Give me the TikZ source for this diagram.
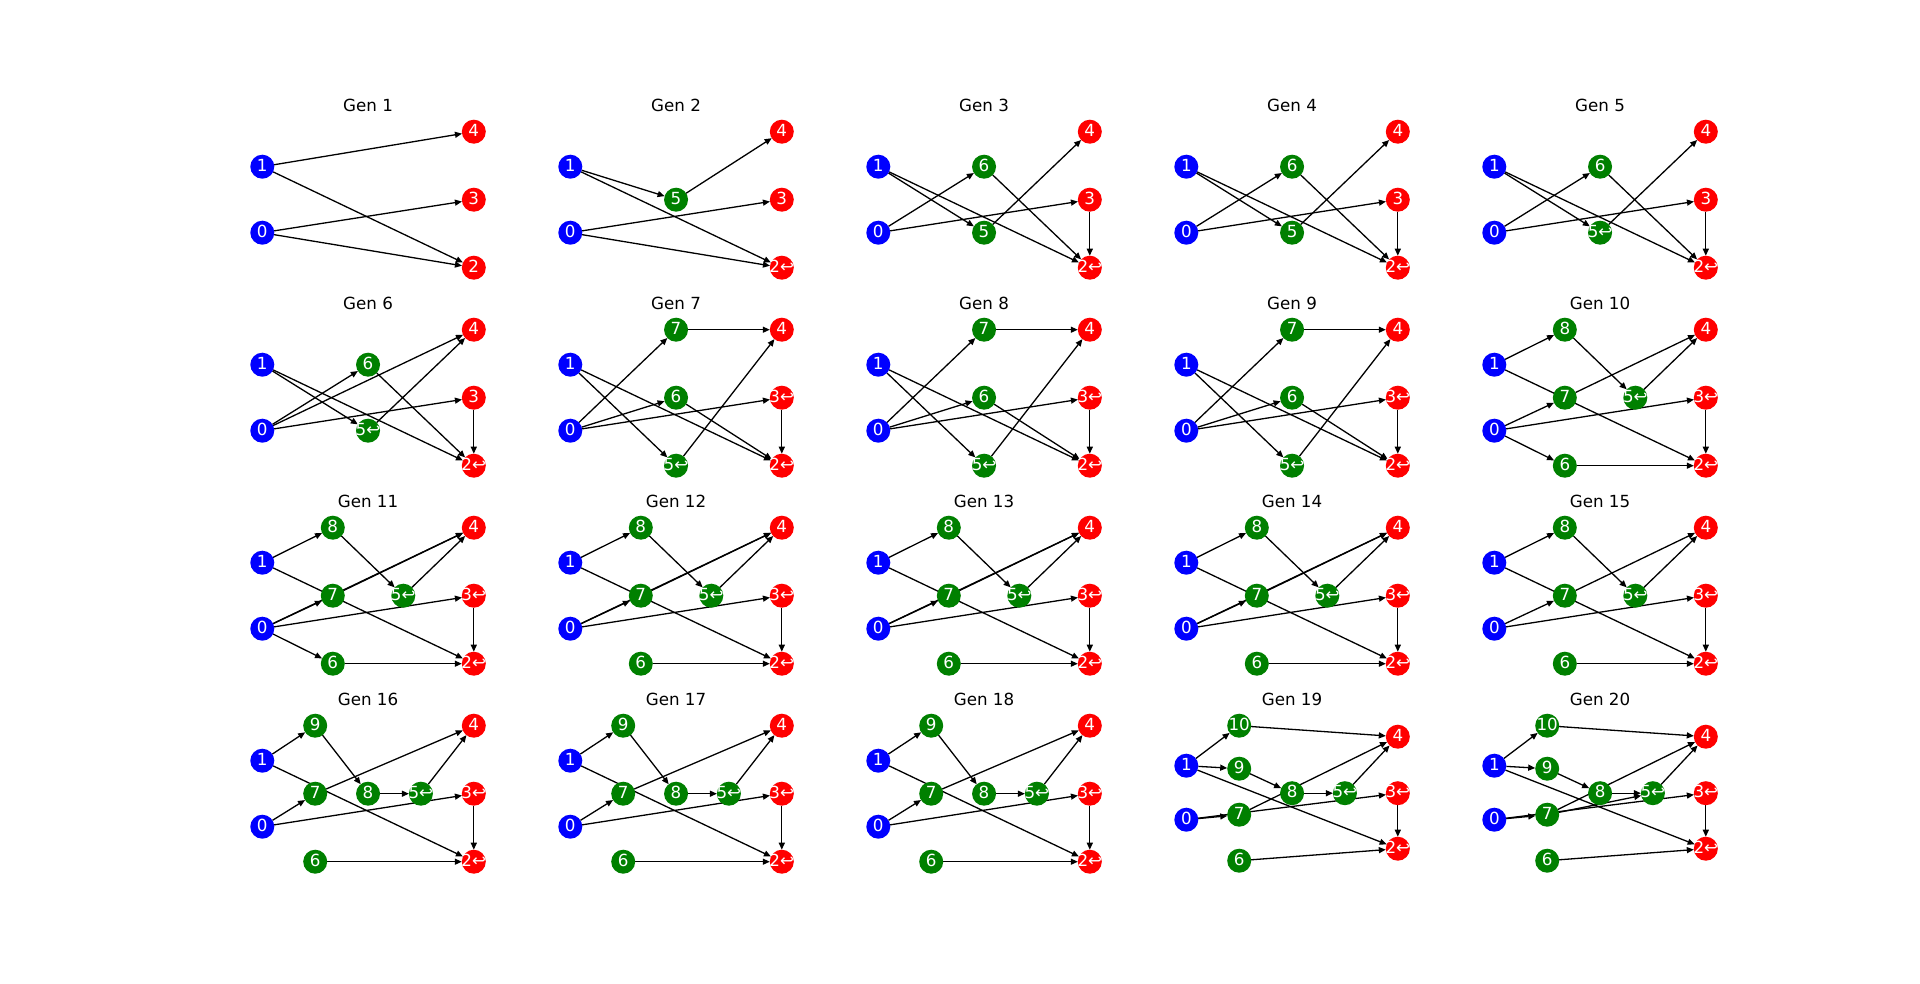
\documentclass[tikz,border=0pt]{standalone}
\usepackage{fontspec}
\setmainfont{DejaVu Sans}
\usetikzlibrary{arrows.meta,backgrounds}
\definecolor{mgreen}{RGB}{0,128,0}
\tikzset{
  gn/.style={circle, minimum size=24pt, inner sep=0pt, outer sep=0pt, draw=none},
  inn/.style={gn, fill=blue},
  hid/.style={gn, fill=mgreen},
  outn/.style={gn, fill=red},
  lab/.style={text=white, font=\fontsize{16.7}{18}\selectfont, inner sep=0pt, text height=12.7pt, text depth=3.5pt},
  ed/.style={draw=black, line width=1.3pt, -{Triangle[length=7pt,width=6pt]}},
  ttl/.style={font=\fontsize{16.7}{18}\selectfont, anchor=base, inner sep=0pt},
  panel/.style n args={3}{shift={(#1,#2)}, name prefix=g#3-},
}
\newcommand{\gnd}[4]{\node[#1, label={[lab]center:#4}] (#2) at (#3) {};}
\newcommand{\edgs}[1]{\begin{pgfonlayer}{background}\foreach \a/\b in {#1}{\draw[ed] (\a) -- (\b);}\end{pgfonlayer}}
\newcommand{\ttlnode}[1]{\node[ttl] (t) at (105.75,-20.6) {Gen #1};}
\newcommand{\insA}{\gnd{inn}{1}{0,35}{1}\gnd{inn}{0}{0,101}{0}}
\newcommand{\insB}{\gnd{inn}{1}{0,40}{1}\gnd{inn}{0}{0,94}{0}}
\newcommand{\outsA}[2]{\gnd{outn}{4}{211.5,0}{4}\gnd{outn}{3}{211.5,68}{#1}\gnd{outn}{2}{211.5,136}{#2}}
\newcommand{\outsB}{\gnd{outn}{4}{211.5,11}{4}\gnd{outn}{3}{211.5,67.5}{3↩}\gnd{outn}{2}{211.5,123}{2↩}}
\begin{document}
\begin{tikzpicture}[x=1pt,y=-1pt]
\begin{pgfonlayer}{background}
\fill[white] (0,0) rectangle (1920,983);
\end{pgfonlayer}
\useasboundingbox (0,0) rectangle (1920,983);
% ---------- Row 1 ----------
\begin{scope}[panel={262.3}{131.7}{1}]
\ttlnode{1}\insA\outsA{3}{2}
\edgs{1/4,1/2,0/3,0/2}
\end{scope}
\begin{scope}[panel={570.3}{131.7}{2}]
\ttlnode{2}\insA\outsA{3}{2↩}
\gnd{hid}{5}{105.75,68}{5}
\edgs{1/5,1/2,5/4,0/3,0/2}
\end{scope}
\begin{scope}[panel={878.3}{131.7}{3}]
\ttlnode{3}\insA\outsA{3}{2↩}
\gnd{hid}{6}{105.75,35}{6}\gnd{hid}{5}{105.75,101}{5}
\edgs{1/5,1/2,0/6,0/3,6/2,5/4,3/2}
\end{scope}
\begin{scope}[panel={1186.3}{131.7}{4}]
\ttlnode{4}\insA\outsA{3}{2↩}
\gnd{hid}{6}{105.75,35}{6}\gnd{hid}{5}{105.75,101}{5}
\edgs{1/5,1/2,0/6,0/3,6/2,5/4,3/2}
\end{scope}
\begin{scope}[panel={1494.3}{131.7}{5}]
\ttlnode{5}\insA\outsA{3}{2↩}
\gnd{hid}{6}{105.75,35}{6}\gnd{hid}{5}{105.75,101}{5↩}
\edgs{1/5,1/2,0/6,0/3,6/2,5/4,3/2}
\end{scope}
% ---------- Row 2 ----------
\begin{scope}[panel={262.3}{329.7}{6}]
\ttlnode{6}\insA\outsA{3}{2↩}
\gnd{hid}{6}{105.75,35}{6}\gnd{hid}{5}{105.75,101}{5↩}
\edgs{1/5,1/2,0/6,0/4,0/3,6/2,5/4,3/2}
\end{scope}
\begin{scope}[panel={570.3}{329.7}{7}]
\ttlnode{7}\insA\outsA{3↩}{2↩}
\gnd{hid}{7}{105.75,0}{7}\gnd{hid}{6}{105.75,68}{6}\gnd{hid}{5}{105.75,136}{5↩}
\edgs{0/7,7/4,1/5,1/2,0/6,0/3,6/2,5/4,3/2}
\end{scope}
\begin{scope}[panel={878.3}{329.7}{8}]
\ttlnode{8}\insA\outsA{3↩}{2↩}
\gnd{hid}{7}{105.75,0}{7}\gnd{hid}{6}{105.75,68}{6}\gnd{hid}{5}{105.75,136}{5↩}
\edgs{0/7,7/4,1/5,1/2,0/6,0/3,6/2,5/4,3/2}
\end{scope}
\begin{scope}[panel={1186.3}{329.7}{9}]
\ttlnode{9}\insA\outsA{3↩}{2↩}
\gnd{hid}{7}{105.75,0}{7}\gnd{hid}{6}{105.75,68}{6}\gnd{hid}{5}{105.75,136}{5↩}
\edgs{0/7,7/4,1/5,1/2,0/6,0/3,6/2,5/4,3/2}
\end{scope}
\begin{scope}[panel={1494.3}{329.7}{10}]
\ttlnode{10}\insA\outsA{3↩}{2↩}
\gnd{hid}{8}{70.5,0}{8}\gnd{hid}{7}{70.5,68}{7}\gnd{hid}{5}{141,68}{5↩}\gnd{hid}{6}{70.5,136}{6}
\edgs{1/8,1/2,0/7,7/4,0/3,0/6,6/2,8/5,5/4,3/2}
\end{scope}
% ---------- Row 3 ----------
\begin{scope}[panel={262.3}{527.7}{11}]
\ttlnode{11}\insA\outsA{3↩}{2↩}
\gnd{hid}{8}{70.5,0}{8}\gnd{hid}{7}{70.5,68}{7}\gnd{hid}{5}{141,68}{5↩}\gnd{hid}{6}{70.5,136}{6}
\edgs{1/8,1/2,0/7,0/4,7/4,0/3,0/6,6/2,8/5,5/4,3/2}
\end{scope}
\begin{scope}[panel={570.3}{527.7}{12}]
\ttlnode{12}\insA\outsA{3↩}{2↩}
\gnd{hid}{8}{70.5,0}{8}\gnd{hid}{7}{70.5,68}{7}\gnd{hid}{5}{141,68}{5↩}\gnd{hid}{6}{70.5,136}{6}
\edgs{1/8,1/2,0/7,0/4,7/4,0/3,6/2,8/5,5/4,3/2}
\end{scope}
\begin{scope}[panel={878.3}{527.7}{13}]
\ttlnode{13}\insA\outsA{3↩}{2↩}
\gnd{hid}{8}{70.5,0}{8}\gnd{hid}{7}{70.5,68}{7}\gnd{hid}{5}{141,68}{5↩}\gnd{hid}{6}{70.5,136}{6}
\edgs{1/8,1/2,0/7,0/4,7/4,0/3,6/2,8/5,5/4,3/2}
\end{scope}
\begin{scope}[panel={1186.3}{527.7}{14}]
\ttlnode{14}\insA\outsA{3↩}{2↩}
\gnd{hid}{8}{70.5,0}{8}\gnd{hid}{7}{70.5,68}{7}\gnd{hid}{5}{141,68}{5↩}\gnd{hid}{6}{70.5,136}{6}
\edgs{1/8,1/2,0/7,0/4,7/4,0/3,6/2,8/5,5/4,3/2}
\end{scope}
\begin{scope}[panel={1494.3}{527.7}{15}]
\ttlnode{15}\insA\outsA{3↩}{2↩}
\gnd{hid}{8}{70.5,0}{8}\gnd{hid}{7}{70.5,68}{7}\gnd{hid}{5}{141,68}{5↩}\gnd{hid}{6}{70.5,136}{6}
\edgs{1/8,1/2,0/7,7/4,0/3,6/2,8/5,5/4,3/2}
\end{scope}
% ---------- Row 4 ----------
\begin{scope}[panel={262.3}{725.7}{16}]
\ttlnode{16}\insA\outsA{3↩}{2↩}
\gnd{hid}{9}{52.9,0}{9}\gnd{hid}{7}{52.9,68}{7}\gnd{hid}{8}{105.75,68}{8}\gnd{hid}{5}{158.6,68}{5↩}\gnd{hid}{6}{52.9,136}{6}
\edgs{1/9,1/2,0/7,7/4,9/8,8/5,5/4,0/3,3/2,6/2}
\end{scope}
\begin{scope}[panel={570.3}{725.7}{17}]
\ttlnode{17}\insA\outsA{3↩}{2↩}
\gnd{hid}{9}{52.9,0}{9}\gnd{hid}{7}{52.9,68}{7}\gnd{hid}{8}{105.75,68}{8}\gnd{hid}{5}{158.6,68}{5↩}\gnd{hid}{6}{52.9,136}{6}
\edgs{1/9,1/2,0/7,7/4,9/8,8/5,5/4,0/3,3/2,6/2}
\end{scope}
\begin{scope}[panel={878.3}{725.7}{18}]
\ttlnode{18}\insA\outsA{3↩}{2↩}
\gnd{hid}{9}{52.9,0}{9}\gnd{hid}{7}{52.9,68}{7}\gnd{hid}{8}{105.75,68}{8}\gnd{hid}{5}{158.6,68}{5↩}\gnd{hid}{6}{52.9,136}{6}
\edgs{1/9,1/2,0/7,7/4,9/8,8/5,5/4,0/3,3/2,6/2}
\end{scope}
\begin{scope}[panel={1186.3}{725.7}{19}]
\ttlnode{19}\insB\outsB
\gnd{hid}{10}{52.9,0}{10}\gnd{hid}{9}{52.9,43}{9}\gnd{hid}{7}{52.9,89}{7}\gnd{hid}{6}{52.9,135}{6}
\gnd{hid}{8}{105.75,67.5}{8}\gnd{hid}{5}{158.6,67.5}{5↩}
\edgs{1/10,10/4,1/9,1/2,9/8,0/7,0/3,7/4,8/5,5/4,3/2,6/2}
\end{scope}
\begin{scope}[panel={1494.3}{725.7}{20}]
\ttlnode{20}\insB\outsB
\gnd{hid}{10}{52.9,0}{10}\gnd{hid}{9}{52.9,43}{9}\gnd{hid}{7}{52.9,89}{7}\gnd{hid}{6}{52.9,135}{6}
\gnd{hid}{8}{105.75,67.5}{8}\gnd{hid}{5}{158.6,67.5}{5↩}
\edgs{1/10,10/4,1/9,1/2,9/8,0/7,0/3,7/4,7/5,8/5,5/4,3/2,6/2}
\end{scope}
\end{tikzpicture}
\end{document}
